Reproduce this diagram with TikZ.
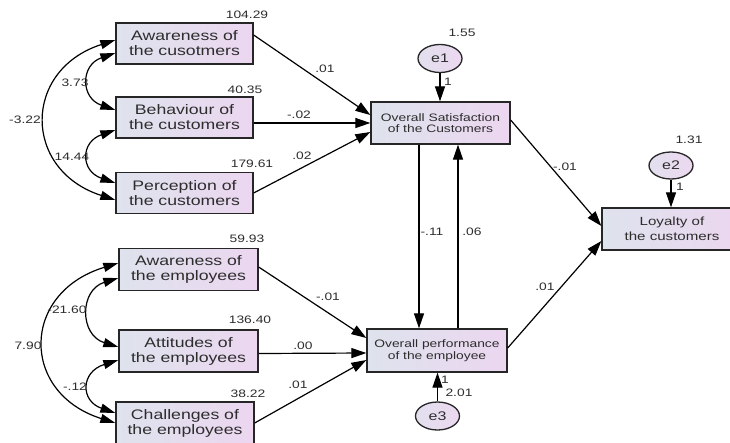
\documentclass[tikz,border=0pt]{standalone}
\usepackage{fontspec}
\setmainfont{Liberation Sans}
\newfontfamily\bfnt[FakeStretch=1.28]{Liberation Sans}
\usetikzlibrary{arrows.meta,shapes.geometric}
\definecolor{boxL}{RGB}{222,227,237}
\definecolor{boxR}{RGB}{236,214,240}
\definecolor{ellL}{RGB}{226,224,238}
\definecolor{ellR}{RGB}{236,216,240}
\definecolor{txt}{RGB}{45,45,45}
\begin{document}
\begin{tikzpicture}[x=1pt,y=-1pt,
  obsbox/.style={draw=black!85, line width=1.3pt, rectangle, inner sep=0pt,
    left color=boxL, right color=boxR, align=center, text=txt},
  bigbox/.style={obsbox, minimum width=137pt, minimum height=41pt,
    font=\bfnt\fontsize{13.8}{15}\selectfont},
  midbox/.style={obsbox, minimum width=139pt, minimum height=42pt,
    font=\bfnt\fontsize{10.8}{11.5}\selectfont},
  loybox/.style={obsbox, minimum width=140pt, minimum height=42pt,
    font=\bfnt\fontsize{11.8}{15}\selectfont},
  errell/.style={ellipse, draw=black!85, line width=1.3pt, inner sep=0pt,
    left color=ellL, right color=ellR, text=txt,
    minimum width=44pt, minimum height=28pt,
    font=\bfnt\fontsize{12.5}{14}\selectfont},
  lab/.style={font=\bfnt\fontsize{10.8}{11}\selectfont, text=txt, inner sep=0pt},
  reg/.style={line width=1.2pt, draw=black, -{Triangle[length=15pt,width=10pt]}},
  cov/.style={line width=1.2pt, draw=black,
    {Triangle[length=15pt,width=9pt]}-{Triangle[length=15pt,width=9pt]}}
]
\fill[white] (0,0) rectangle (730,442);
\useasboundingbox (0,0) rectangle (730,442);

% observed variables, left column
\node[bigbox] (awc) at (184.5,43.5) {Awareness of\\the cusotmers};
\node[bigbox] (bhc) at (184.5,117.5) {Behaviour of\\the customers};
\node[bigbox] (pec) at (184.5,193) {Perception of\\the customers};
\node[bigbox, minimum width=139pt, minimum height=42pt] (awe) at (188.5,269.5) {Awareness of\\the employees};
\node[bigbox, minimum width=139pt, minimum height=42pt] (ate) at (188.5,351) {Attitudes of\\the employees};
\node[bigbox, minimum width=138pt, minimum height=42pt] (che) at (185,423) {Challenges of\\the employees};

% middle and right
\node[midbox] (sat) at (440.5,123) {Overall Satisfaction\\of the Customers};
\node[midbox, minimum width=140pt, minimum height=43pt] (per) at (437,350.5) {Overall performance\\of the employee};
\node[loybox] (loy) at (672,229) {Loyalty of\\the customers};

% error terms
\node[errell] (e1) at (440,58.5) {e1};
\node[errell, minimum height=27pt] (e2) at (671,165.5) {e2};
\node[errell, minimum height=28pt] (e3) at (437.5,416) {e3};

% regression paths
\draw[reg] ([yshift=8.5]awc.east) -- ([yshift=8]sat.west);
\draw[reg] ([yshift=-5.5]bhc.east) -- (sat.west);
\draw[reg] (pec.east) -- ([yshift=-9]sat.west);
\draw[reg] ([yshift=2.5]awe.east) -- ([yshift=12.5]per.west);
\draw[reg] ([yshift=-2.5]ate.east) -- ([yshift=-2.5]per.west);
\draw[reg] (che.east) -- ([yshift=-9.5]per.west);
\draw[reg] ([yshift=3]sat.east) -- ([yshift=3]loy.west);
\draw[reg] ([yshift=2.5]per.east) -- ([yshift=-12]loy.west);
\draw[reg] ([xshift=-21.5]sat.south) -- ([xshift=-21.5]sat.south |- per.north);
\draw[reg] ([xshift=17.5]sat.south |- per.north) -- ([xshift=17.5]sat.south);
\draw[reg] (e1.south) -- (e1.south |- sat.north);
\draw[reg] (e2.south) -- (e2.south |- loy.north);
\draw[reg] (e3.north) -- (e3.north |- per.south);

% covariances
\draw[cov] ([yshift=3.5]awc.west) .. controls +(-93,30) and +(-93,-30) .. ([yshift=-7]pec.west);
\draw[cov] ([yshift=-9.5]awc.west) .. controls +(-35,12) and +(-35,-12) .. ([yshift=7.5]bhc.west);
\draw[cov] ([yshift=-12.5]bhc.west) .. controls +(-35,12) and +(-35,-12) .. ([yshift=10]pec.west);
\draw[cov] ([yshift=6.5]awe.west) .. controls +(-98,30) and +(-95,-30) .. (che.west);
\draw[cov] ([yshift=-8.5]awe.west) .. controls +(-39,12) and +(-39,-12) .. ([yshift=4]ate.west);
\draw[cov] ([yshift=-9]ate.west) .. controls +(-38,12) and +(-35,-12) .. ([yshift=10]che.west);

% labels
\node[lab] (v1) at (247,15) {104.29};
\node[lab] (v2) at (245,90) {40.35};
\node[lab] (v3) at (252,164) {179.61};
\node[lab] (v4) at (247,239) {59.93};
\node[lab] (v5) at (250,320) {136.40};
\node[lab] (v6) at (248,394) {38.22};
\node[lab] (c1) at (75,83) {3.73};
\node[lab] (c2) at (25,120) {-3.22};
\node[lab] (c3) at (72,157) {14.44};
\node[lab] (c4) at (67,310) {-21.60};
\node[lab] (c5) at (28,346) {7.90};
\node[lab] (c6) at (75,387) {-.12};
\node[lab] (ve1) at (462,33) {1.55};
\node[lab] (o1) at (448,82) {1};
\node[lab] (r1) at (325,69) {.01};
\node[lab] (r2) at (299,115) {-.02};
\node[lab] (r3) at (302,156) {.02};
\node[lab] (r4) at (432,232) {-.11};
\node[lab] (r5) at (472,232) {.06};
\node[lab] (r6) at (328,297) {-.01};
\node[lab] (r7) at (303,346) {.00};
\node[lab] (r8) at (298,385) {.01};
\node[lab] (o3) at (445,380) {1};
\node[lab] (ve3) at (459,393) {2.01};
\node[lab] (r9) at (565,167) {-.01};
\node[lab] (r10) at (545,287) {.01};
\node[lab] (ve2) at (689,140) {1.31};
\node[lab] (o2) at (680,187) {1};
\end{tikzpicture}
\end{document}
